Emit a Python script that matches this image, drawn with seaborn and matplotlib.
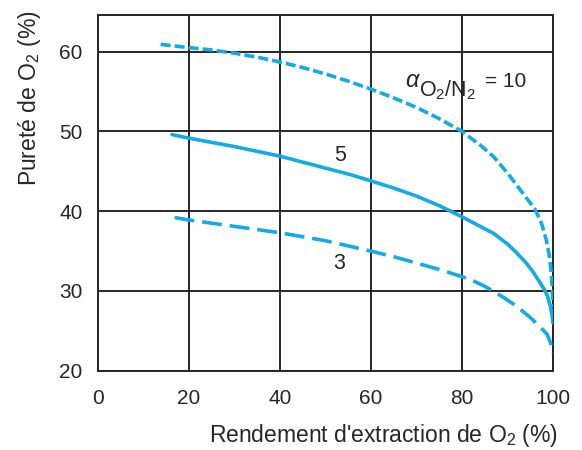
import numpy as np
import pandas as pd
import matplotlib
matplotlib.use("Agg")
import matplotlib.pyplot as plt
import seaborn as sns

# valeurs (rendement %, pureté %)
rend_10 = [13.8, 20, 25, 30, 35, 40, 45, 50, 55, 60, 65, 70, 75, 80, 84, 87, 90,
           92, 94, 96, 97.5, 98.5, 99.2, 99.6, 99.85, 100]
pur_10 = [60.9, 60.5, 60.2, 59.8, 59.3, 58.7, 58.0, 57.2, 56.3, 55.3, 54.2, 53.0, 51.6,
          50.0, 48.3, 46.8, 44.8, 43.3, 41.8, 40.3, 38.5, 36.5, 34.5, 32.5, 30.5, 28.0]

rend_5 = [16.3, 20, 30, 40, 50, 55.4, 60, 65, 70, 75, 80, 84, 87, 90, 92, 94,
          95.5, 97, 98, 98.8, 99.4, 99.8, 100]
pur_5 = [49.6, 49.15, 48.1, 46.9, 45.4, 44.6, 43.8, 42.9, 41.9, 40.7, 39.3, 38.1, 37.2,
         35.9, 34.8, 33.6, 32.5, 31.2, 30.3, 29.4, 28.2, 27.0, 26.0]

rend_3 = [16.9, 20, 30, 40, 50, 55.4, 60, 65, 70, 75, 80, 82, 85, 89, 92, 95,
          97, 98.7, 99.5, 100]
pur_3 = [39.2, 38.9, 38.1, 37.3, 36.3, 35.6, 35.0, 34.3, 33.5, 32.7, 31.8, 31.4, 30.6,
         29.25, 28.1, 26.7, 25.6, 24.6, 23.5, 22.2]

x_ticks = [0, 20, 40, 60, 80, 100]
y_ticks = [20, 30, 40, 50, 60]

sns.set_style("white")
plt.rcParams['font.family'] = ['Liberation Sans', 'DejaVu Sans']
plt.rcParams['mathtext.fontset'] = 'custom'
plt.rcParams['mathtext.rm'] = 'Liberation Sans'
plt.rcParams['mathtext.it'] = 'Liberation Sans:italic'

bleu = '#12ABE6'
noir = '#262626'

fig = plt.figure(figsize=(5.82, 4.5), dpi=100)
ax = fig.add_axes([0.168, 0.176, 0.782, 0.791])

# grille noire
for v in x_ticks:
    ax.axvline(v, color=noir, lw=1.4, zorder=1)
for v in y_ticks:
    ax.axhline(v, color=noir, lw=1.4, zorder=1)

df10 = pd.DataFrame({'x': rend_10, 'y': pur_10})
df5 = pd.DataFrame({'x': rend_5, 'y': pur_5})
df3 = pd.DataFrame({'x': rend_3, 'y': pur_3})

sns.lineplot(data=df10, x='x', y='y', ax=ax, sort=False, color=bleu, lw=2.6,
             zorder=3).lines[-1].set_dashes((2.8, 1.1))
sns.lineplot(data=df5, x='x', y='y', ax=ax, sort=False, color=bleu, lw=2.6, zorder=3)
sns.lineplot(data=df3, x='x', y='y', ax=ax, sort=False, color=bleu, lw=2.6,
             zorder=3).lines[-1].set_dashes((5.5, 2.2))

ax.set_xlim(0, 100)
ax.set_ylim(20, 64.6)
ax.set_xticks(x_ticks)
ax.set_yticks(y_ticks)
ax.tick_params(axis='both', direction='out', length=9, width=1.4, color=noir,
               labelsize=15, labelcolor=noir)
ax.tick_params(axis='y', pad=2)
ax.tick_params(axis='x', pad=4)
for s in ax.spines.values():
    s.set_color(noir)
    s.set_linewidth(1.4)

ax.set_xlabel("")
ax.set_ylabel("")
# titres des axes, placés comme sur l'original
fig.text(558 / 582, 1 - 442 / 450, "Rendement d'extraction de O$_2$ (%)", fontsize=16.5,
         color=noir, ha='right', va='baseline')
fig.text(29.5 / 582, 1 - 10 / 450, "Pureté de O$_2$ (%)", fontsize=16.5, color=noir,
         rotation=90, ha='center', va='top')

# étiquette alpha O2/N2 = 10 (indice presque pleine taille)
ax.text(67.5, 55.6, r"$\alpha$", fontsize=17, color=noir, va='baseline', ha='left')
ax.text(70.6, 54.4, "O$_2$/N$_2$", fontsize=15.5, color=noir, va='baseline', ha='left')
ax.text(85.0, 55.6, "= 10", fontsize=15, color=noir, va='baseline', ha='left')
ax.text(53.2, 47.0, "5", fontsize=15.5, color=noir, va='center', ha='center')
ax.text(53.0, 33.5, "3", fontsize=15.5, color=noir, va='center', ha='center')

fig.savefig("out.png", dpi=100)
